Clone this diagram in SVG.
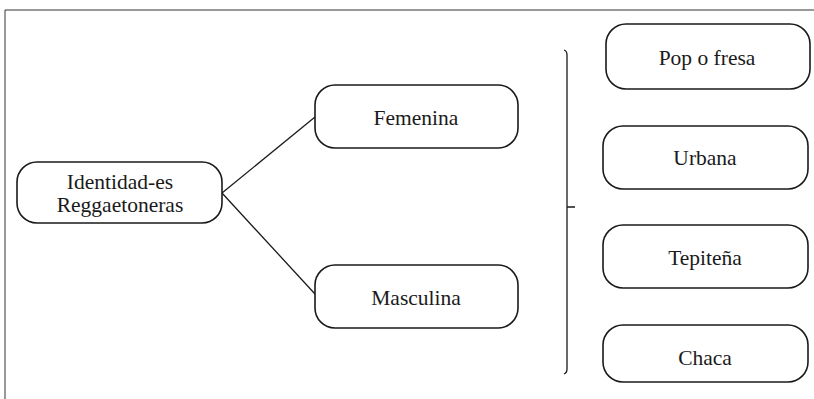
<svg xmlns="http://www.w3.org/2000/svg" width="814" height="399" viewBox="0 0 814 399">
<style>
.box{fill:#fff;stroke:#1a1a1a;stroke-width:1.6}
.t{font-family:'Liberation Serif','Times New Roman',serif;font-size:21.5px;fill:#1a1a1a;text-anchor:middle}
.ln{stroke:#1a1a1a;stroke-width:1.3;fill:none}
</style>
<rect width="814" height="399" fill="#fff"/>
<path d="M5,399 V10 H814" fill="none" stroke="#333" stroke-width="1"/>
<g id="connectors">
<line class="ln" x1="222" y1="193" x2="315" y2="117"/>
<line class="ln" x1="222" y1="193" x2="315" y2="294"/>
<path class="ln" d="M564,50 Q567,51 567,55 V369 Q567,373 564,374 M567,207 H575"/>
</g>
<g id="identidad"><rect class="box" x="17" y="162" width="205" height="61" rx="20"/><text class="t" x="120" y="189">Identidad-es</text><text class="t" x="120" y="212">Reggaetoneras</text></g>
<g id="femenina"><rect class="box" x="315" y="85" width="203" height="63" rx="20"/><text class="t" x="416" y="125">Femenina</text></g>
<g id="masculina"><rect class="box" x="315" y="265" width="203" height="63" rx="20"/><text class="t" x="416" y="305">Masculina</text></g>
<g id="pop"><rect class="box" x="606" y="24" width="204" height="65" rx="20"/><text class="t" x="707" y="65">Pop o fresa</text></g>
<g id="urbana"><rect class="box" x="603" y="126" width="205" height="63" rx="20"/><text class="t" x="705" y="165">Urbana</text></g>
<g id="tepitena"><rect class="box" x="603" y="225" width="205" height="63" rx="20"/><text class="t" x="705" y="265">Tepiteña</text></g>
<g id="chaca"><rect class="box" x="603" y="325" width="205" height="57" rx="20"/><text class="t" x="705" y="365">Chaca</text></g>
</svg>
